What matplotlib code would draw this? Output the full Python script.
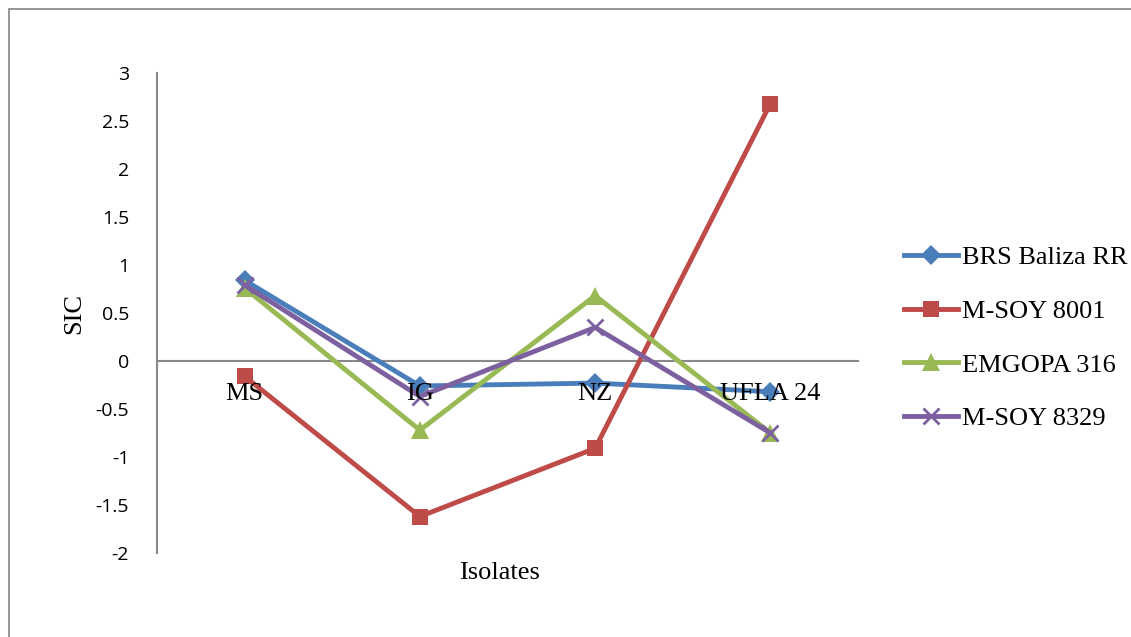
import matplotlib
matplotlib.use("Agg")
import matplotlib.pyplot as plt
from matplotlib.patches import Rectangle

isolates = ["MS", "IG", "NZ", "UFLA 24"]
brs_baliza = [0.84, -0.26, -0.23, -0.32]
msoy_8001 = [-0.16, -1.62, -0.91, 2.68]
emgopa_316 = [0.76, -0.72, 0.68, -0.75]
msoy_8329 = [0.79, -0.37, 0.35, -0.75]
y_ticks = [3, 2.5, 2, 1.5, 1, 0.5, 0, -0.5, -1, -1.5, -2]

series = [
    ("BRS Baliza RR", brs_baliza, "#4A7EBB", "D", 10),
    ("M-SOY 8001", msoy_8001, "#BE4B48", "s", 11),
    ("EMGOPA 316", emgopa_316, "#98B954", "^", 13),
    ("M-SOY 8329", msoy_8329, "#7D60A0", "x", 12),
]

serif = "Liberation Serif"

fig = plt.figure(figsize=(11.31, 6.37), dpi=100)
fig.patches.append(Rectangle((0.008, -0.05), 1.1, 1.036, transform=fig.transFigure,
                             fill=False, edgecolor="#8c8c8c", linewidth=1.3))

ax = fig.add_axes([157 / 1131, 1 - 553 / 637, 701 / 1131, 480 / 637])
x = list(range(len(isolates)))
for name, vals, col, mk, ms in series:
    kw = dict(markeredgewidth=2) if mk == "x" else dict(markeredgewidth=0)
    ax.plot(x, vals, color=col, linewidth=3.5, marker=mk, markersize=ms,
            markerfacecolor=col, markeredgecolor=col, label=name, **kw)

ax.set_xlim(-0.5, 3.5)
ax.set_ylim(-2, 3)
ax.set_yticks(y_ticks)
ax.set_yticklabels([f"{v:g}" for v in y_ticks], family="Open Sans", fontsize=14)
ax.tick_params(axis="y", length=0, pad=20)

for s in ("top", "right"):
    ax.spines[s].set_visible(False)
ax.spines["left"].set_color("#888888")
ax.spines["left"].set_linewidth(1.5)
ax.spines["bottom"].set_position(("data", 0))
ax.spines["bottom"].set_color("#888888")
ax.spines["bottom"].set_linewidth(1.5)
ax.spines["bottom"].set_zorder(0)

ax.set_xticks(x)
ax.set_xticklabels(isolates, family=serif, fontsize=19)
ax.tick_params(axis="x", length=0, pad=16)
ax.xaxis.set_zorder(5)

ax.set_ylabel("SIC", family=serif, fontsize=19, labelpad=7.5)
fig.text(500 / 1131, 1 - 573 / 637, "Isolates", family=serif, fontsize=19,
         ha="center", va="center")

leg = fig.legend(loc="upper left", bbox_to_anchor=(904 / 1131, 1 - 246 / 637),
                 frameon=False, prop={"family": serif, "size": 19},
                 handlelength=2.05, handletextpad=0.15, labelspacing=1.14,
                 borderpad=0, borderaxespad=0)

fig.savefig("out.png", dpi=100)
